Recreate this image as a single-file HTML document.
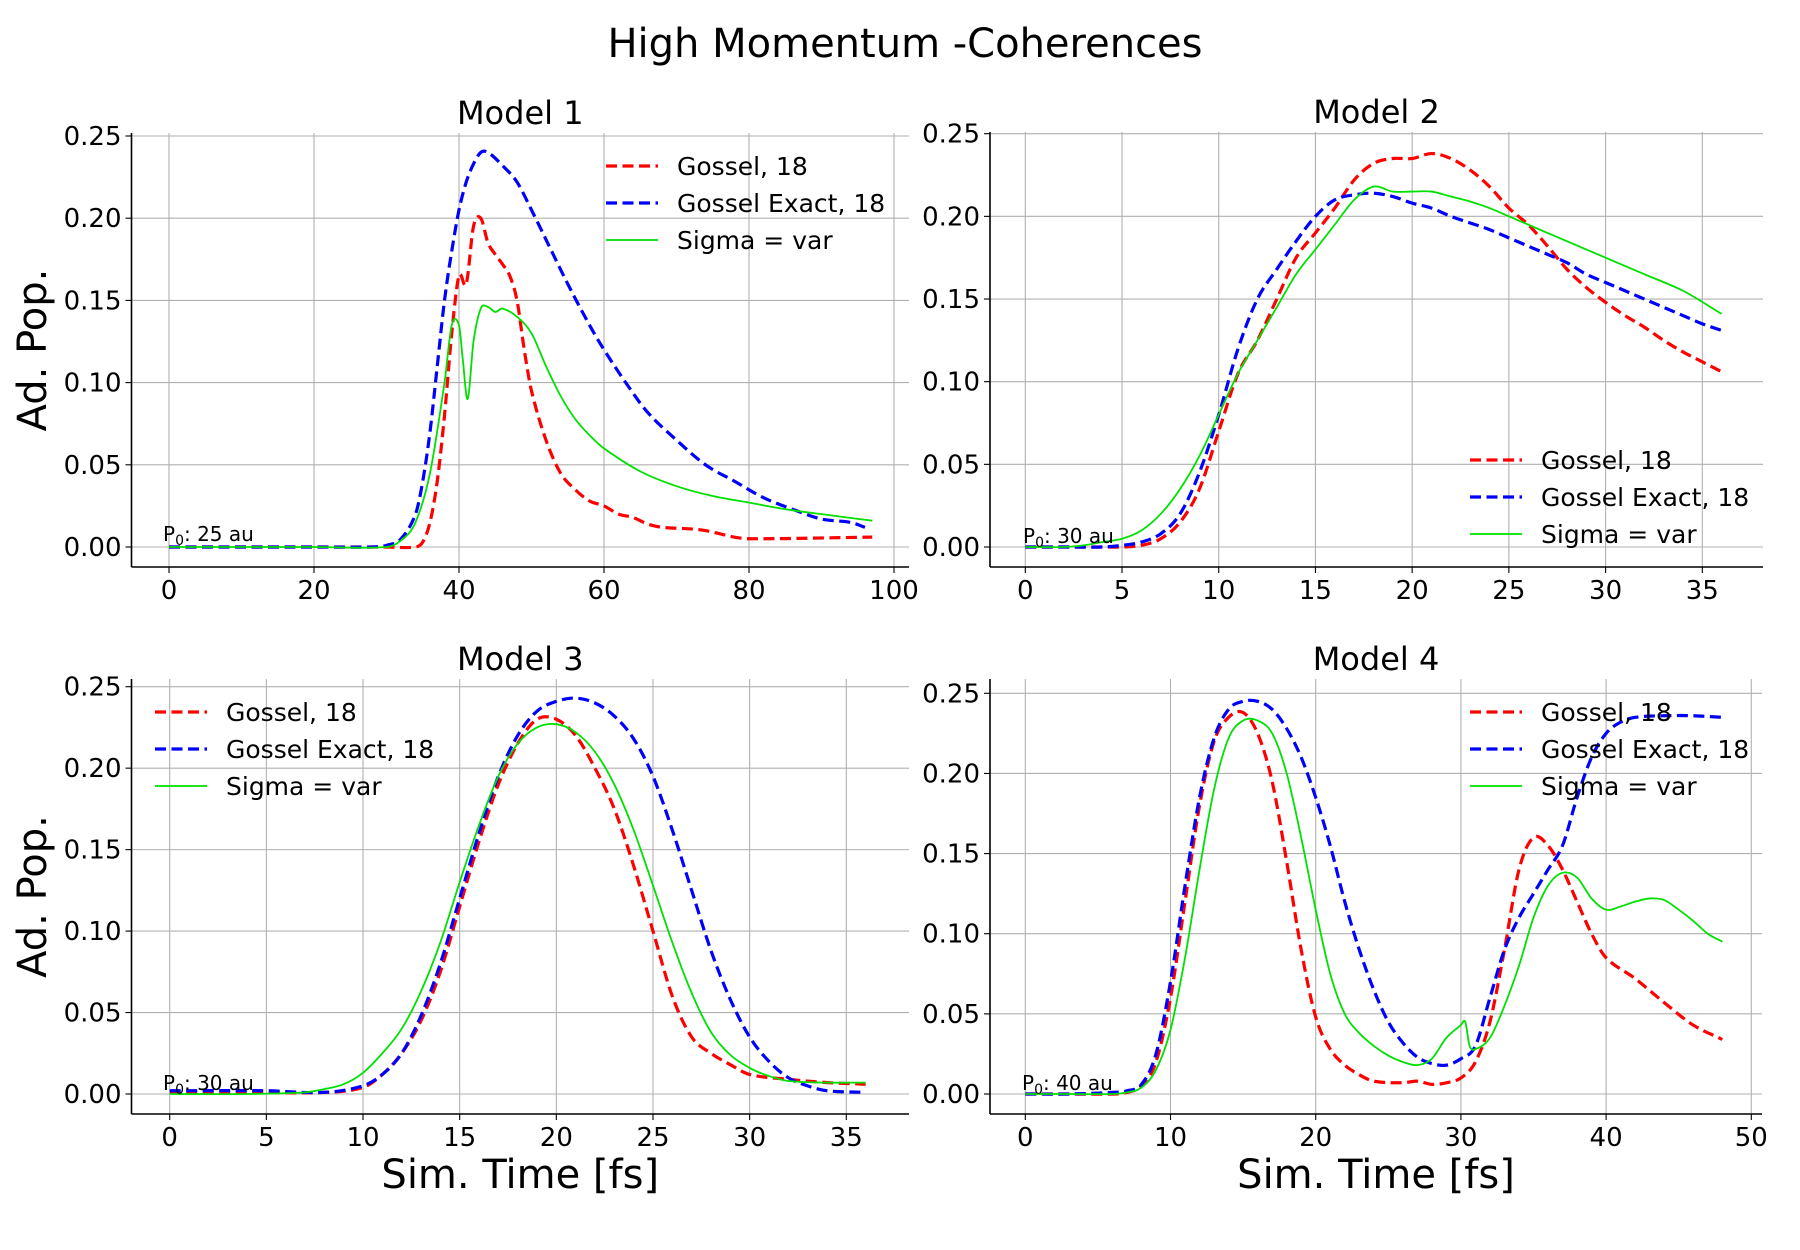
<!DOCTYPE html>
<html><head><meta charset="utf-8">
<style>
html,body{margin:0;padding:0;background:#fff;}
svg{display:block;font-family:"DejaVu Sans","Liberation Sans",sans-serif;}
</style></head>
<body>
<svg id="chart" width="1800" height="1250" viewBox="0 0 1800 1250" xmlns="http://www.w3.org/2000/svg">
<text x="905" y="57" font-size="40" text-anchor="middle">High Momentum -Coherences</text>
</svg>
<script>
// ---- data ----
const m1RedX=[0,10,20,30,34,35,36,37,38,39,40,41,42,43,44,45,46,47,48,49,50,52,54,56,58,60,62,64,66,68,72,74,76,78,80,97];
const m1RedY=[0,0,0,0,0,0.003,0.015,0.04,0.08,0.13,0.165,0.16,0.195,0.2,0.185,0.178,0.172,0.165,0.15,0.12,0.095,0.065,0.045,0.035,0.028,0.025,0.02,0.018,0.014,0.012,0.011,0.01,0.008,0.006,0.005,0.006];
const m1BlueX=[0,10,20,28,30,32,34,35,36,37,38,39,40,41,42,43,44,46,48,50,52,55,58,60,63,66,70,74,78,82,86,90,94,96];
const m1BlueY=[0,0,0,0,0.001,0.005,0.02,0.04,0.07,0.11,0.15,0.18,0.205,0.222,0.233,0.24,0.24,0.232,0.222,0.205,0.187,0.16,0.135,0.12,0.1,0.082,0.065,0.05,0.04,0.03,0.023,0.017,0.015,0.012];
const m1GreenX=[0,10,20,30,32,34,36,38,39,40,40.5,41.2,42,43,44,45,46,48,50,52,54,56,58,60,65,70,75,80,85,90,97];
const m1GreenY=[0,0,0,0,0.004,0.015,0.045,0.1,0.135,0.135,0.115,0.09,0.125,0.145,0.146,0.143,0.145,0.14,0.13,0.11,0.092,0.078,0.068,0.06,0.046,0.037,0.031,0.027,0.023,0.02,0.016];

const m2RedX=[0,2,4,5,6,7,8,9,10,11,12,13,14,15,16,17,18,19,20,21,22,23,24,25,26,27,28,29,30,31,32,33,34,35,36];
const m2RedY=[0,0,0,0,0.001,0.005,0.015,0.035,0.07,0.105,0.125,0.15,0.175,0.19,0.205,0.222,0.232,0.235,0.235,0.238,0.235,0.228,0.218,0.205,0.195,0.182,0.168,0.157,0.148,0.14,0.133,0.125,0.118,0.112,0.106];
const m2BlueX=[0,2,4,5,6,7,8,9,10,11,12,13,14,15,16,17,18,19,20,21,22,23,24,25,26,27,28,29,30,31,32,33,34,35,36];
const m2BlueY=[0,0,0,0.001,0.003,0.008,0.02,0.045,0.08,0.12,0.15,0.168,0.185,0.2,0.21,0.213,0.214,0.212,0.208,0.205,0.2,0.196,0.192,0.187,0.182,0.177,0.172,0.165,0.16,0.155,0.15,0.145,0.14,0.135,0.131];
const m2GreenX=[0,2,3,4,5,6,7,8,9,10,11,12,13,14,15,16,17,18,19,20,21,22,23,24,25,26,28,30,32,34,36];
const m2GreenY=[0,0,0.001,0.003,0.005,0.01,0.02,0.035,0.055,0.08,0.105,0.125,0.145,0.165,0.18,0.195,0.21,0.218,0.215,0.215,0.215,0.212,0.209,0.205,0.2,0.195,0.185,0.175,0.165,0.155,0.141];

const m3RedX=[0,4,8,10,11,12,13,14,15,16,17,18,19,20,21,22,23,24,25,26,27,28,29,30,32,34,36];
const m3RedY=[0.001,0.001,0.001,0.004,0.012,0.025,0.045,0.075,0.115,0.155,0.19,0.215,0.23,0.23,0.22,0.2,0.175,0.14,0.1,0.06,0.035,0.025,0.018,0.012,0.009,0.007,0.006];
const m3BlueX=[0,5,8,10,11,12,13,14,15,16,17,18,19,20,21,22,23,24,25,26,27,28,29,30,31,32,33,34,36];
const m3BlueY=[0.002,0.002,0.001,0.005,0.012,0.025,0.048,0.08,0.12,0.16,0.195,0.22,0.235,0.241,0.243,0.24,0.232,0.218,0.195,0.162,0.125,0.088,0.058,0.035,0.02,0.01,0.005,0.002,0.001];
const m3GreenX=[0,4,7,8,9,10,11,12,13,14,15,16,17,18,19,20,21,22,23,24,25,26,27,28,29,30,31,32,34,36];
const m3GreenY=[0,0,0.001,0.003,0.006,0.013,0.025,0.04,0.063,0.093,0.13,0.165,0.195,0.215,0.225,0.227,0.222,0.21,0.19,0.162,0.128,0.093,0.062,0.038,0.024,0.016,0.011,0.008,0.007,0.007];

const m4RedX=[0,3,6,7,8,9,10,11,12,13,14,15,16,17,18,19,20,21,22,23,24,26,27,28,29,30,31,32,33,34,35,36,37,38,39,40,42,44,46,48];
const m4RedY=[0,0,0,0.001,0.005,0.02,0.06,0.12,0.18,0.22,0.235,0.238,0.225,0.195,0.145,0.09,0.048,0.028,0.018,0.012,0.008,0.007,0.008,0.006,0.007,0.01,0.02,0.045,0.09,0.14,0.16,0.155,0.14,0.12,0.1,0.085,0.072,0.057,0.043,0.034];
const m4BlueX=[0,3,6,7,8,9,10,11,12,13,14,15,16,17,18,19,20,21,22,23,24,25,26,27,28,29,30,31,32,33,34,35,36,37,38,39,40,41,42,44,46,48];
const m4BlueY=[0,0,0.001,0.002,0.006,0.025,0.07,0.13,0.185,0.222,0.24,0.245,0.245,0.24,0.228,0.21,0.185,0.155,0.12,0.09,0.065,0.045,0.032,0.023,0.019,0.018,0.022,0.03,0.06,0.09,0.11,0.125,0.14,0.155,0.185,0.21,0.225,0.232,0.235,0.236,0.236,0.235];
const m4GreenX=[0,3,6,7,8,9,10,11,12,13,14,15,16,17,18,19,20,21,22,23,24,25,26,27,28,29,30,30.3,30.6,31,32,33,34,35,36,37,38,39,40,41,42,43,44,45,46,47,48];
const m4GreenY=[0,0,0,0.001,0.004,0.015,0.04,0.085,0.14,0.19,0.222,0.233,0.233,0.225,0.2,0.16,0.115,0.075,0.05,0.038,0.03,0.024,0.02,0.018,0.022,0.035,0.043,0.045,0.03,0.028,0.035,0.055,0.08,0.11,0.13,0.138,0.135,0.122,0.115,0.117,0.12,0.122,0.121,0.115,0.108,0.1,0.095];

const yTicks=[0,0.05,0.10,0.15,0.20,0.25];
const yTickLabels=["0.00","0.05","0.10","0.15","0.20","0.25"];
const xTicks1=[0,20,40,60,80,100];
const xTicks2=[0,5,10,15,20,25,30,35];
const xTicks3=[0,5,10,15,20,25,30,35];
const xTicks4=[0,10,20,30,40,50];
const seriesNames=["Gossel, 18","Gossel Exact, 18","Sigma = var"];
const annotations=["P0: 25 au","P0: 30 au","P0: 30 au","P0: 40 au"];

// ---- layout ----
const NS="http://www.w3.org/2000/svg";
const svg=document.getElementById('chart');
function mk(tag,attrs,parent){const e=document.createElementNS(NS,tag);for(const k in attrs)e.setAttribute(k,attrs[k]);(parent||svg).appendChild(e);return e;}
function linear(d0,d1,r0,r1){return v=>r0+(v-d0)*(r1-r0)/(d1-d0);}

const panels=[
 {title:"Model 1",L:131.5,R:909,T:133,B:567,x:linear(0,100,169,894),y:linear(0,0.25,547,136),xt:xTicks1,
  series:[[m1RedX,m1RedY],[m1BlueX,m1BlueY],[m1GreenX,m1GreenY]],leg:{x:606,y:166},ann:{x:163,y:541},xlab:false,ylab:true},
 {title:"Model 2",L:990,R:1763,T:132,B:567,x:linear(0,35,1025.3,1702.3),y:linear(0,0.25,547,133.7),xt:xTicks2,
  series:[[m2RedX,m2RedY],[m2BlueX,m2BlueY],[m2GreenX,m2GreenY]],leg:{x:1470,y:460},ann:{x:1023,y:543},xlab:false,ylab:false},
 {title:"Model 3",L:131.5,R:909,T:679,B:1114,x:linear(0,35,169.7,846.3),y:linear(0,0.25,1094,686.7),xt:xTicks3,
  series:[[m3RedX,m3RedY],[m3BlueX,m3BlueY],[m3GreenX,m3GreenY]],leg:{x:155,y:712},ann:{x:163,y:1090},xlab:true,ylab:true},
 {title:"Model 4",L:990,R:1762,T:679,B:1114,x:linear(0,50,1025.3,1751.3),y:linear(0,0.25,1094,693.3),xt:xTicks4,
  series:[[m4RedX,m4RedY],[m4BlueX,m4BlueY],[m4GreenX,m4GreenY]],leg:{x:1470,y:712},ann:{x:1022,y:1090},xlab:true,ylab:false}
];
const styles=[{c:"#ff0000",w:3.2,d:"11,5.5"},{c:"#0000ff",w:3.2,d:"11,5.5"},{c:"#00e000",w:1.8,d:""}];
const seriesKeys=["gossel","gossel-exact","sigma-var"];

function smoothPath(pts){
  const n=pts.length,m=[];
  for(let i=0;i<n;i++){
    const a=pts[Math.max(0,i-1)],b=pts[Math.min(n-1,i+1)];
    m.push((b[1]-a[1])/(b[0]-a[0]));
  }
  let d="M"+pts[0][0].toFixed(2)+","+pts[0][1].toFixed(2);
  for(let i=0;i<n-1;i++){
    const p1=pts[i],p2=pts[i+1],dx=(p2[0]-p1[0])/3;
    d+="C"+(p1[0]+dx).toFixed(2)+","+(p1[1]+m[i]*dx).toFixed(2)+" "+(p2[0]-dx).toFixed(2)+","+(p2[1]-m[i+1]*dx).toFixed(2)+" "+p2[0].toFixed(2)+","+p2[1].toFixed(2);
  }
  return d;
}

panels.forEach((p,pi)=>{
  const g=mk('g',{});
  
  
  yTicks.forEach((t,i)=>{
    const yy=p.y(t);
    const gl=mk('line',{x1:p.L,x2:p.R,y1:yy,y2:yy,stroke:"#b0b0b0","stroke-width":1.1},g);
    
    
    mk('line',{x1:p.L-6,x2:p.L,y1:yy,y2:yy,stroke:"#000","stroke-width":1.1},g);
    const tl=mk('text',{x:p.L-10,y:yy+9,"font-size":26,"text-anchor":"end"},g);
    tl.textContent=yTickLabels[i];
    
    
  });
  p.xt.forEach(t=>{
    const xx=p.x(t);
    const gl=mk('line',{x1:xx,x2:xx,y1:p.T,y2:p.B,stroke:"#b0b0b0","stroke-width":1.1},g);
    
    
    mk('line',{x1:xx,x2:xx,y1:p.B,y2:p.B+6,stroke:"#000","stroke-width":1.1},g);
    const tl=mk('text',{x:xx,y:p.B+32,"font-size":26,"text-anchor":"middle"},g);
    tl.textContent=String(t);
    
    
  });
  const sl=mk('line',{x1:p.L,x2:p.L,y1:p.T,y2:p.B,stroke:"#000","stroke-width":1.6},g);
  
  
  const sb=mk('line',{x1:p.L,x2:p.R,y1:p.B,y2:p.B,stroke:"#000","stroke-width":1.6},g);
  
  
  p.series.forEach((s,si)=>{
    const pts=s[0].map((v,i)=>[p.x(v),p.y(s[1][i])]);
    const st=styles[si];
    const path=mk('path',{d:smoothPath(pts),fill:"none",stroke:st.c,"stroke-width":st.w,"stroke-dasharray":st.d,"stroke-linejoin":"round"},g);
    
    
  });
  const ti=mk('text',{x:(p.L+p.R)/2,y:p.T-9,"font-size":32,"text-anchor":"middle"},g);
  ti.textContent=p.title;
  
  
  const an=mk('text',{x:p.ann.x,y:p.ann.y,"font-size":20},g);
  
  
  const a=annotations[pi];
  const t1=mk('tspan',{},an);t1.textContent="P";
  const t2=mk('tspan',{"font-size":14,dy:4},an);t2.textContent="0";
  const t3=mk('tspan',{dy:-4},an);t3.textContent=a.slice(2);
  seriesNames.forEach((n,si)=>{
    const st=styles[si];const ly=p.leg.y+si*37;
    const lg=mk('g',{},g);
    
    
    mk('line',{x1:p.leg.x,x2:p.leg.x+52,y1:ly,y2:ly,stroke:st.c,"stroke-width":st.w,"stroke-dasharray":st.d},lg);
    const lt=mk('text',{x:p.leg.x+71,y:ly+9,"font-size":25},lg);
    lt.textContent=n;
  });
  if(p.ylab){
    const yl=mk('text',{x:0,y:0,"font-size":40,"text-anchor":"middle",transform:"translate(46,"+((p.T+p.B)/2)+") rotate(-90)"},g);
    yl.textContent="Ad. Pop.";
    
    
  }
  if(p.xlab){
    const xl=mk('text',{x:(p.L+p.R)/2,y:1188,"font-size":40,"text-anchor":"middle"},g);
    xl.textContent="Sim. Time [fs]";
    
    
  }
});
</script>
</body></html>
